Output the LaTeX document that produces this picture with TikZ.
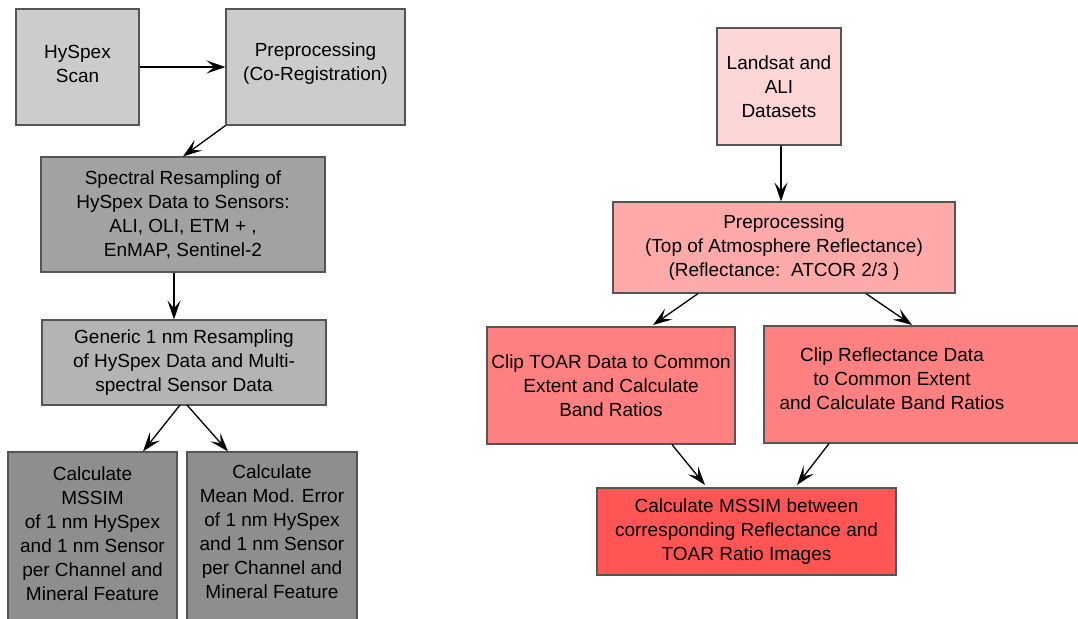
\documentclass[tikz,border=0pt]{standalone}
\usepackage{fontspec}
\setmainfont{Liberation Sans}
\usetikzlibrary{arrows.meta}
\definecolor{gA}{HTML}{CCCCCC}
\definecolor{gB}{HTML}{A2A2A2}
\definecolor{gC}{HTML}{B4B4B4}
\definecolor{gD}{HTML}{8E8E8E}
\definecolor{rA}{HTML}{FFD6D6}
\definecolor{rB}{HTML}{FFAAAA}
\definecolor{rC}{HTML}{FF8080}
\definecolor{rD}{HTML}{FF5555}
\definecolor{edge}{HTML}{555555}
\tikzset{
  box/.style={draw=edge, line width=1.2pt, inner sep=0pt, align=center, font=\fontsize{19}{24}\selectfont},
  txt/.style={inner sep=0pt, align=center, font=\fontsize{19}{24}\selectfont},
  arr/.style={line width=1.3pt, -{Stealth[length=19pt, width=13pt, inset=8pt]}}
}
\begin{document}
\begin{tikzpicture}[x=1pt,y=-1pt]
\useasboundingbox (0,0) rectangle (1078,618);
\clip (0,0) rectangle (1078,618);
\fill[white] (0,0) rectangle (1078,618);
% left
\node[box, fill=gA, minimum width=123pt, minimum height=116pt] (hy) at (77.5,67) {};
\node[txt] (hyt) at (77.5,64) {HySpex\\Scan};
\node[box, fill=gA, minimum width=179pt, minimum height=116pt] (pre) at (315.5,67) {};
\node[txt] (pret) at (315.5,64) {Preprocessing\\(Co-Registration)};
\node[box, fill=gB, minimum width=284pt, minimum height=115pt] (spec) at (183,214.5) {Spectral Resampling of\\HySpex Data to Sensors:\\ALI, OLI, ETM + ,\\EnMAP, Sentinel-2};
\node[box, fill=gC, minimum width=284pt, minimum height=85pt] (gen) at (184,362.5) {Generic 1 nm Resampling\\of HySpex Data and Multi-\\spectral Sensor Data};
\node[box, fill=gD, minimum width=169pt, minimum height=168pt] (ms) at (92.5,536) {};
\node[txt] (mst) at (92.5,534) {Calculate\\MSSIM\\of 1 nm HySpex\\and 1 nm Sensor\\per Channel and\\Mineral Feature};
\node[box, fill=gD, minimum width=170pt, minimum height=168pt] (mm) at (272,536) {};
\node[txt] (mmt) at (272,532) {Calculate\\Mean Mod. Error\\of 1 nm HySpex\\and 1 nm Sensor\\per Channel and\\Mineral Feature};
\draw[arr] (hy.east) -- (pre.west);
\draw[arr] (pre.south west) -- (spec.north);
\draw[arr] (spec.south -| 174,0) -- (gen.north -| 174,0);
\coordinate (g1) at (180,405);
\coordinate (g2) at (187,405);
\draw[arr] (g1) -- (ms.north -| 143,0);
\draw[arr] (g2) -- (mm.north -| 228,0);
% right
\node[box, fill=rA, minimum width=124pt, minimum height=117pt] (ls) at (779,86.5) {Landsat and\\ALI\\Datasets};
\node[box, fill=rB, minimum width=342pt, minimum height=91pt] (toa) at (784,247.5) {Preprocessing\\(Top of Atmosphere Reflectance)\\(Reflectance:\ \ ATCOR 2/3 )};
\node[box, fill=rC, minimum width=248pt, minimum height=117pt] (ct) at (611,385.5) {Clip TOAR Data to Common\\Extent and Calculate\\Band Ratios};
\node[box, fill=rC, minimum width=330pt, minimum height=117pt] (cr) at (929,384.5) {};
\node[txt] (crt) at (892,379) {Clip Reflectance Data\\to Common Extent\\and Calculate Band Ratios};
\node[box, fill=rD, minimum width=299pt, minimum height=87pt] (fin) at (746.5,531.5) {Calculate MSSIM between\\corresponding Reflectance and\\TOAR Ratio Images};
\draw[arr] (ls.south -| 781,0) -- (toa.north -| 781,0);
\draw[arr] (toa.south -| 698,0) -- (653,325);
\draw[arr] (toa.south -| 866,0) -- (912,325);
\draw[arr] (ct.south -| 672,0) -- (705,485);
\draw[arr] (cr.south -| 829,0) -- (797,485);
\end{tikzpicture}
\end{document}
